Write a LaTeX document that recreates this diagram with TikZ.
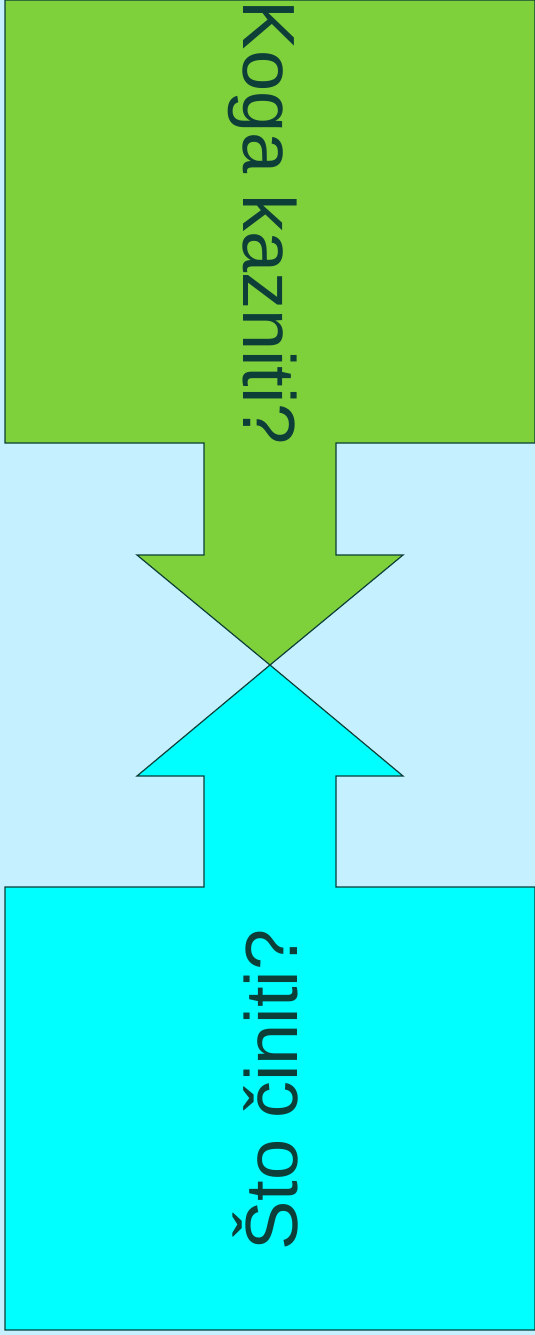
\documentclass[tikz,border=0pt]{standalone}
\usepackage{fontspec}
\setmainfont{Liberation Sans}
\definecolor{sky}{HTML}{C5F0FF}
\definecolor{leaf}{HTML}{7FD13B}
\definecolor{aqua}{HTML}{00FFFF}
\definecolor{ink}{HTML}{0D3F38}
\begin{document}
\begin{tikzpicture}[x=0.5pt,y=-0.5pt,font=\fontsize{37}{44}\selectfont,
    arrowshape/.style={draw=ink,line width=0.6pt,line join=miter},
    arrowtext/.style={text=ink,inner sep=0pt,anchor=base}]
  \fill[sky] (0,0) rectangle (535,1335);
  \useasboundingbox (0,0) rectangle (535,1335);
  % upper arrow (green, pointing down)
  \draw[arrowshape,fill=leaf] (5,0) -- (535,0) -- (535,443) -- (336,443) -- (336,555)
        -- (403,555) -- (270,665) -- (137,555) -- (204,555) -- (204,443)
        -- (5,443) -- cycle;
  \node[arrowtext,rotate=-90] (top) at (243,223) {Koga kazniti?};
  % lower arrow (cyan, pointing up)
  \draw[arrowshape,fill=aqua] (5,1330) -- (535,1330) -- (535,887) -- (336,887) -- (336,776)
        -- (403,776) -- (270,665) -- (137,776) -- (204,776) -- (204,887)
        -- (5,887) -- cycle;
  \node[arrowtext,rotate=90] (bottom) at (297,1090) {Što činiti?};
\end{tikzpicture}
\end{document}
